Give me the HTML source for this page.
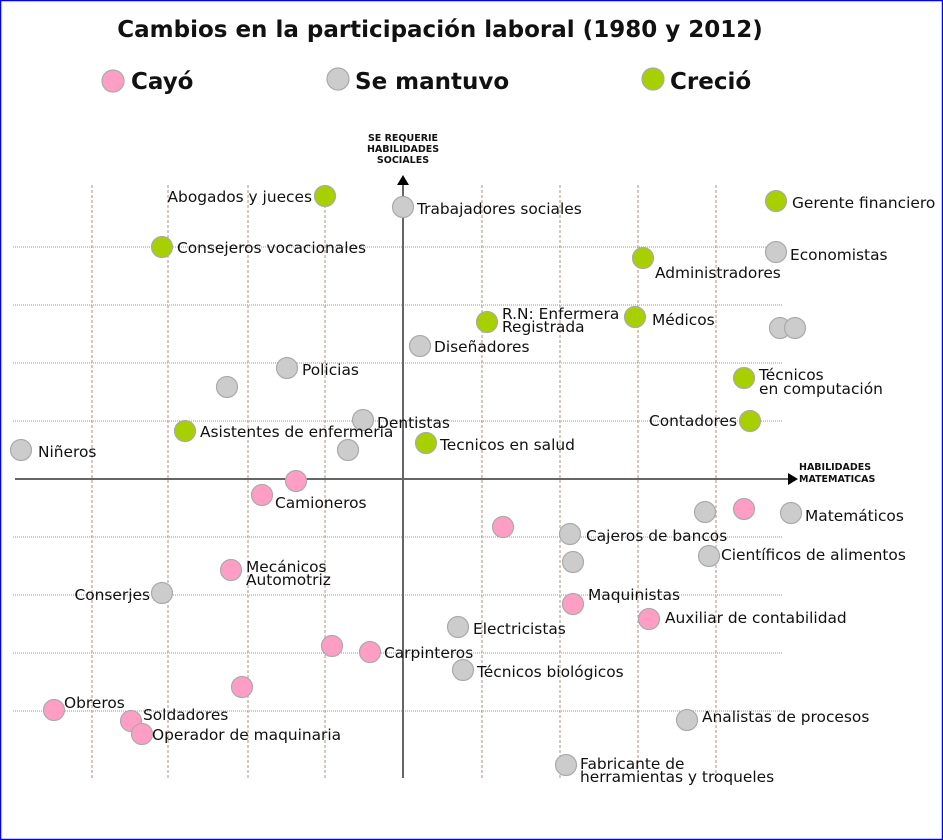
<!DOCTYPE html>
<html><head><meta charset="utf-8"><style>
html,body{margin:0;padding:0;background:#fff}
svg{display:block}
text{font-family:"DejaVu Sans","Liberation Sans",sans-serif;fill:#111}
.l{font-size:15.4px}
.b{font-weight:bold}
</style></head><body>
<svg width="943" height="840" viewBox="0 0 943 840" xmlns="http://www.w3.org/2000/svg">
<rect x="0.5" y="0.5" width="942" height="839" fill="#fff" stroke="#0000ff" stroke-width="1.5"/>
<text x="440" y="37" text-anchor="middle" class="b" font-size="23">Cambios en la participación laboral (1980 y 2012)</text>
<g stroke-width="1.2">
<circle cx="113" cy="81" r="11" fill="#ff9ec4" stroke="#aaa"/>
<circle cx="338" cy="79" r="11" fill="#ccc" stroke="#aaa"/>
<circle cx="653" cy="79" r="11" fill="#a8d000" stroke="#aaa"/>
</g>
<text x="131" y="89" class="b" font-size="23">Cayó</text>
<text x="355" y="89" class="b" font-size="23">Se mantuvo</text>
<text x="670" y="89" class="b" font-size="23">Creció</text>
<g stroke="#a89080" stroke-width="1" stroke-dasharray="3,2">
<line x1="92" y1="185" x2="92" y2="778"/><line x1="168" y1="185" x2="168" y2="778"/>
<line x1="248" y1="185" x2="248" y2="778"/><line x1="325" y1="185" x2="325" y2="778"/>
<line x1="482" y1="185" x2="482" y2="778"/><line x1="560" y1="185" x2="560" y2="778"/>
<line x1="638" y1="185" x2="638" y2="778"/><line x1="716" y1="185" x2="716" y2="778"/>
</g>
<g stroke="#a89080" stroke-width="1" stroke-dasharray="1,1">
<line x1="13" y1="247" x2="783" y2="247"/><line x1="13" y1="305" x2="783" y2="305"/>
<line x1="13" y1="363" x2="783" y2="363"/><line x1="13" y1="421" x2="783" y2="421"/>
<line x1="13" y1="537" x2="783" y2="537"/><line x1="13" y1="595" x2="783" y2="595"/>
<line x1="13" y1="653" x2="783" y2="653"/><line x1="13" y1="711" x2="783" y2="711"/>
</g>
<g stroke="#666" stroke-width="2">
<line x1="15" y1="479" x2="788" y2="479"/>
<line x1="403" y1="778" x2="403" y2="185"/>
</g>
<polygon points="788,473 798,479 788,485" fill="#000"/>
<polygon points="397,185 403,175 409,185" fill="#000"/>
<g class="b" font-size="9.5" text-anchor="middle">
<text x="403" y="141">SE REQUERIE</text><text x="403" y="152">HABILIDADES</text><text x="403" y="163">SOCIALES</text>
</g>
<g class="b" font-size="9.5">
<text x="799" y="470">HABILIDADES</text><text x="799" y="482">MATEMATICAS</text>
</g>
<g stroke="#aaa" stroke-width="1.2">
<g fill="#ccc">
<circle cx="403" cy="207" r="10.5"/><circle cx="776" cy="252" r="10.5"/><circle cx="780" cy="328" r="10.5"/><circle cx="795" cy="328" r="10.5"/>
<circle cx="420" cy="346" r="10.5"/><circle cx="287" cy="368" r="10.5"/><circle cx="227" cy="387" r="10.5"/><circle cx="363" cy="420" r="10.5"/>
<circle cx="21" cy="450" r="10.5"/><circle cx="348" cy="450" r="10.5"/><circle cx="570" cy="534" r="10.5"/><circle cx="705" cy="512" r="10.5"/>
<circle cx="791" cy="513" r="10.5"/><circle cx="709" cy="556" r="10.5"/><circle cx="573" cy="562" r="10.5"/><circle cx="162" cy="593" r="10.5"/>
<circle cx="458" cy="627" r="10.5"/><circle cx="463" cy="670" r="10.5"/><circle cx="687" cy="720" r="10.5"/><circle cx="566" cy="765" r="10.5"/>
</g>
<g fill="#a8d000">
<circle cx="325" cy="196" r="10.5"/><circle cx="776" cy="201" r="10.5"/><circle cx="162" cy="247" r="10.5"/><circle cx="643" cy="258" r="10.5"/>
<circle cx="487" cy="322" r="10.5"/><circle cx="635" cy="317" r="10.5"/><circle cx="744" cy="378" r="10.5"/><circle cx="185" cy="431" r="10.5"/>
<circle cx="750" cy="421" r="10.5"/><circle cx="426" cy="443" r="10.5"/>
</g>
<g fill="#ff9ec4">
<circle cx="296" cy="481" r="10.5"/><circle cx="262" cy="495" r="10.5"/><circle cx="503" cy="527" r="10.5"/><circle cx="744" cy="509" r="10.5"/>
<circle cx="231" cy="570" r="10.5"/><circle cx="573" cy="604" r="10.5"/><circle cx="649" cy="619" r="10.5"/><circle cx="332" cy="646" r="10.5"/>
<circle cx="370" cy="652" r="10.5"/><circle cx="242" cy="687" r="10.5"/><circle cx="54" cy="710" r="10.5"/><circle cx="131" cy="721" r="10.5"/>
<circle cx="142" cy="734" r="10.5"/>
</g>
</g>
<g class="l">
<text x="312" y="202" text-anchor="end">Abogados y jueces</text>
<text x="417" y="214">Trabajadores sociales</text>
<text x="792" y="208">Gerente financiero</text>
<text x="177" y="253">Consejeros vocacionales</text>
<text x="790" y="260">Economistas</text>
<text x="655" y="278">Administradores</text>
<text x="502" y="319">R.N: Enfermera</text><text x="502" y="332">Registrada</text>
<text x="652" y="325">Médicos</text>
<text x="434" y="352">Diseñadores</text>
<text x="302" y="375">Policias</text>
<text x="759" y="380">Técnicos</text><text x="759" y="394">en computación</text>
<text x="377" y="428">Dentistas</text>
<text x="200" y="437">Asistentes de enfermeria</text>
<text x="737" y="426" text-anchor="end">Contadores</text>
<text x="38" y="457">Niñeros</text>
<text x="440" y="450">Tecnicos en salud</text>
<text x="275" y="508">Camioneros</text>
<text x="586" y="541">Cajeros de bancos</text>
<text x="805" y="521">Matemáticos</text>
<text x="721" y="560">Científicos de alimentos</text>
<text x="246" y="572">Mecánicos</text><text x="246" y="585">Automotriz</text>
<text x="150" y="600" text-anchor="end">Conserjes</text>
<text x="588" y="600">Maquinistas</text>
<text x="665" y="623">Auxiliar de contabilidad</text>
<text x="473" y="634">Electricistas</text>
<text x="384" y="658">Carpinteros</text>
<text x="477" y="677">Técnicos biológicos</text>
<text x="64" y="708">Obreros</text>
<text x="143" y="720">Soldadores</text>
<text x="152" y="740">Operador de maquinaria</text>
<text x="702" y="722">Analistas de procesos</text>
<text x="580" y="769">Fabricante de</text><text x="580" y="782">herramientas y troqueles</text>
</g>
</svg>
</body></html>
